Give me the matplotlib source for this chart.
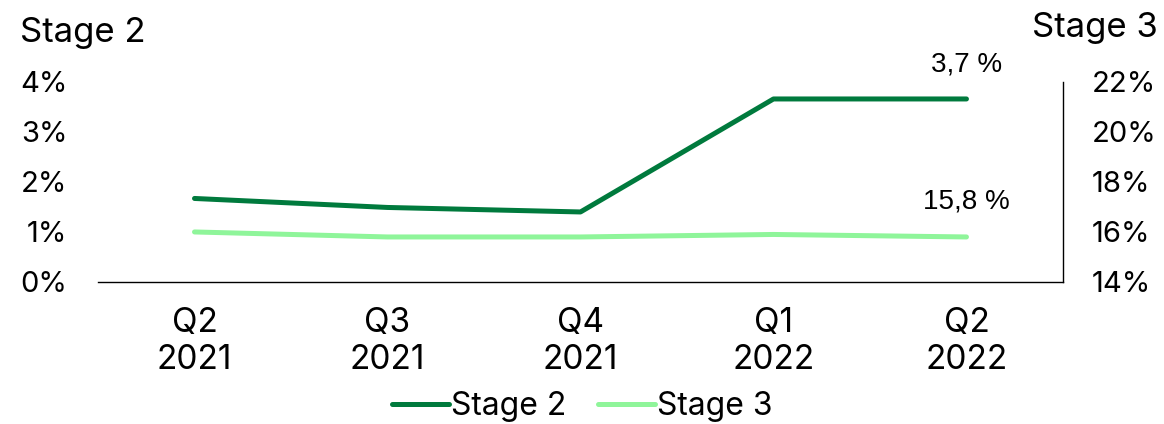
import matplotlib.pyplot as plt
from matplotlib.ticker import FuncFormatter

quarters = ["Q2\n2021", "Q3\n2021", "Q4\n2021", "Q1\n2022", "Q2\n2022"]
stage2 = [1.67, 1.49, 1.40, 3.66, 3.66]
stage3 = [16.0, 15.8, 15.8, 15.9, 15.8]
stage2_last = "3,7 %"
stage3_last = "15,8 %"

dark = "#007A3D"
light = "#8FF59A"

plt.rcParams["font.family"] = ["Inter", "DejaVu Sans"]

fig = plt.figure(figsize=(11.64, 4.24), dpi=100)
ax = fig.add_axes([0.0842, 0.335, 0.829, 0.4717])
ax2 = ax.twinx()

x = range(len(quarters))
l2, = ax.plot(x, stage2, color=dark, lw=3.6, solid_capstyle="round", label="Stage 2")
l3, = ax2.plot(x, stage3, color=light, lw=3.6, solid_capstyle="round", label="Stage 3")

ax.set_xlim(-0.5, 4.5)
ax.set_ylim(0, 4)
ax2.set_ylim(14, 22)
ax.set_yticks([0, 1, 2, 3, 4])
ax2.set_yticks([14, 16, 18, 20, 22])
pct = FuncFormatter(lambda v, p: "%d%%" % v)
ax.yaxis.set_major_formatter(pct)
ax2.yaxis.set_major_formatter(pct)
ax.set_xticks(list(x))
ax.set_xticklabels(quarters, linespacing=1.2)

for a in (ax, ax2):
    for s in ("top", "left"):
        a.spines[s].set_visible(False)
    a.tick_params(length=0, labelsize=21)
ax.spines["right"].set_visible(False)
ax2.spines["bottom"].set_visible(False)
ax.spines["bottom"].set_linewidth(1)
ax2.spines["right"].set_linewidth(1)
ax.tick_params(axis="y", pad=22)
ax.tick_params(axis="x", pad=18, labelsize=24)
ax2.tick_params(axis="y", pad=21)

ax.annotate(stage2_last, (4, stage2[-1]), xytext=(0, 25), textcoords="offset points",
            ha="center", va="center", fontsize=20, family="Liberation Sans")
ax2.annotate(stage3_last, (4, stage3[-1]), xytext=(0, 25.5), textcoords="offset points",
             ha="center", va="center", fontsize=20, family="Liberation Sans")

fig.text(0.017, 0.922, "Stage 2", fontsize=25, va="center", ha="left")
fig.text(0.995, 0.934, "Stage 3", fontsize=25, va="center", ha="right")

fig.legend(handles=[l2, l3], loc="center", bbox_to_anchor=(0.5, 0.042), ncol=2,
           frameon=False, fontsize=23, handlelength=1.8, handletextpad=0.05,
           columnspacing=1.0, borderpad=0)

fig.savefig("out.png", dpi=100)
